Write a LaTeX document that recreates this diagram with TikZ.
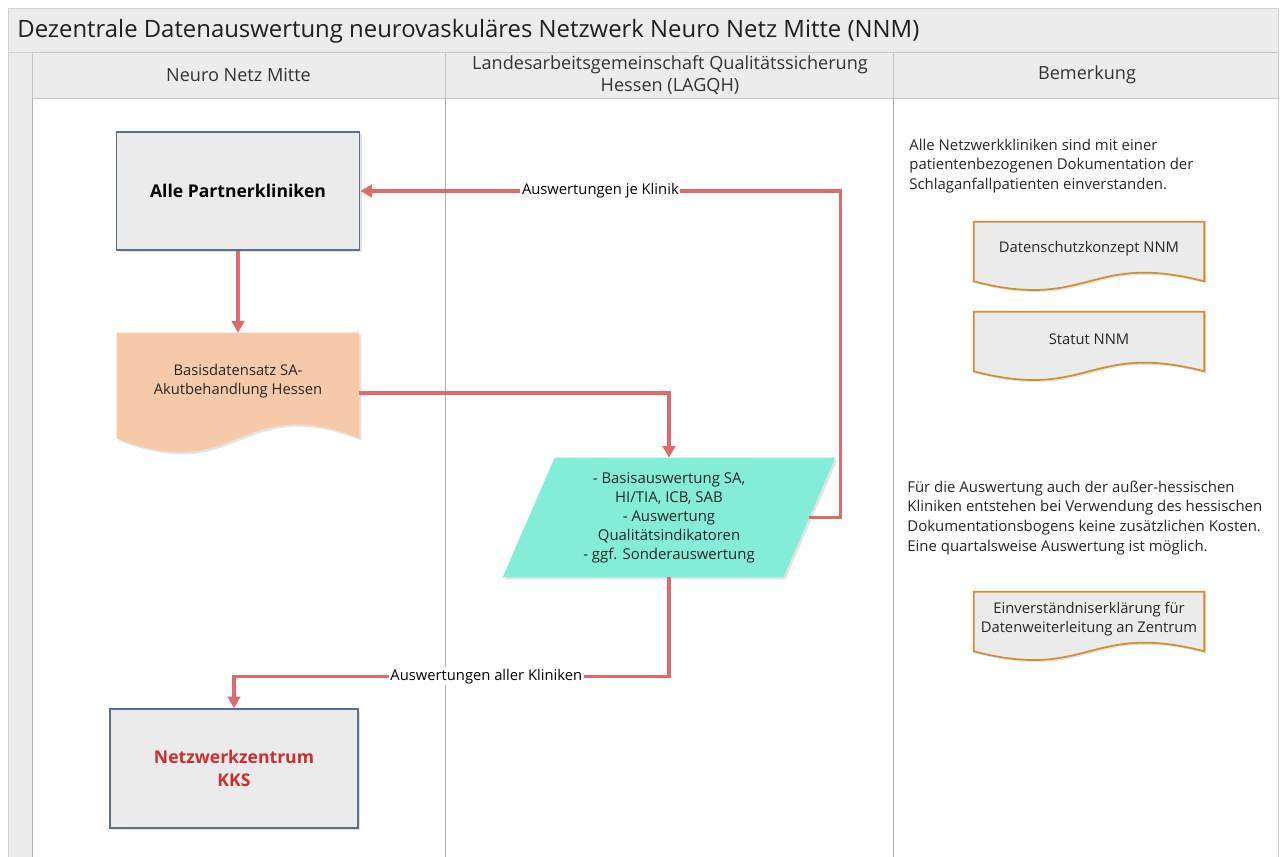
\documentclass[tikz,border=0pt]{standalone}
\usepackage{fontspec}
\setmainfont{Open Sans}
\usetikzlibrary{arrows.meta,calc,backgrounds,shadows}

\definecolor{lanegray}{HTML}{ECECEC}
\definecolor{laneline}{HTML}{A9B5B4}
\definecolor{boxline}{HTML}{5B6E8C}
\definecolor{boxfill}{HTML}{EBEBEB}
\definecolor{peach}{HTML}{F6C9A9}
\definecolor{aqua}{HTML}{84EDD8}
\definecolor{docline}{HTML}{D38E33}
\definecolor{flowred}{HTML}{E06A6A}
\definecolor{kksred}{HTML}{CF2E2E}

\newcommand{\pxu}{0.02cm}
\newcommand{\docpath}[4]{%
  \draw[#1] (#2.north west) -- (#2.north east) -- ($(#2.south east)+(0,#3)$)
    .. controls ($(#2.south)+(0,#3-#4)$) and ($(#2.south)+(0,#3+#4)$) .. ($(#2.south west)+(0,#3)$) -- cycle;}

\tikzset{
  softshadow/.style={drop shadow={shadow xshift=1.2pt, shadow yshift=-1.2pt, opacity=0.22}},
  head/.style={align=center, text=black!80, font=\fontsize{10.3}{12.5}\selectfont},
  proc/.style={draw=boxline, fill=boxfill, line width=1pt, softshadow, align=center,
    font=\bfseries\fontsize{10}{12.8}\selectfont},
  doctext/.style={align=center, text=black!85, font=\fontsize{8.4}{10.6}\selectfont},
  note/.style={anchor=west, align=left, inner sep=0pt, text=black!85, font=\fontsize{8.5}{11.3}\selectfont},
  flow/.style={draw=flowred, line width=2pt, -{Triangle[length=6.5pt,width=7pt]}},
  flowlabel/.style={fill=white, inner sep=1pt, text=black, font=\fontsize{8.4}{9}\selectfont}
}

\begin{document}
\begin{tikzpicture}[x=0.02cm, y=-0.02cm]
\useasboundingbox (0,0) rectangle (1283,857);

\begin{scope}[on background layer]
  \draw[draw=black!18, fill=white] (8,8) rectangle (1278,857);
  \draw[draw=black!18, fill=lanegray] (8,8) rectangle (1278,52);
  \draw[draw=black!18, fill=lanegray] (8,52) rectangle (32,857);
  \foreach \xa/\xb in {32/445, 445/893, 893/1278}{
    \draw[draw=black!22, fill=lanegray] (\xa,52) rectangle (\xb,98);
    \draw[laneline] (\xa,98) -- (\xa,857);
  }
\end{scope}

\node[anchor=west, inner sep=0pt, text=black!88, font=\fontsize{13.6}{16}\selectfont] (title) at (17,31)
  {Dezentrale Datenauswertung neurovaskuläres Netzwerk Neuro Netz Mitte (NNM)};
\node[head] (lane1) at (238.5,75) {Neuro Netz Mitte};
\node[head] (lane2) at (670,75) {Landesarbeitsgemeinschaft Qualitätssicherung\\Hessen (LAGQH)};
\node[head] (lane3) at (1087,75) {Bemerkung};

\node[proc, minimum width=243*\pxu, minimum height=118*\pxu] (partner) at (238,191) {Alle Partnerkliniken};
\node[doctext, minimum width=242*\pxu, minimum height=96*\pxu] (basis) at (238,381)
  {Basisdatensatz SA-\\Akutbehandlung Hessen};
\node[doctext, font=\fontsize{8.5}{10.8}\selectfont, minimum width=280*\pxu, minimum height=119*\pxu] (ausw) at (669,517.5)
  {- Basisauswertung SA,\\HI/TIA, ICB, SAB\\- Auswertung\\Qualitätsindikatoren\\- ggf. Sonderauswertung};
\node[proc, text=kksred, minimum width=248*\pxu, minimum height=119*\pxu] (kks) at (234,768.5) {Netzwerkzentrum\\KKS};

\node[note] (note1) at (909,166)
  {Alle Netzwerkkliniken sind mit einer\\patientenbezogenen Dokumentation der\\Schlaganfallpatienten einverstanden.};
\node[note] (note2) at (907,518)
  {Für die Auswertung auch der außer-hessischen\\Kliniken entstehen bei Verwendung des hessischen\\Dokumentationsbogens keine zusätzlichen Kosten.\\Eine quartalsweise Auswertung ist möglich.};

\node[doctext, minimum width=230*\pxu, minimum height=54*\pxu] (dsk) at (1089,249) {Datenschutzkonzept NNM};
\node[doctext, minimum width=230*\pxu, minimum height=54*\pxu] (statut) at (1089,339) {Statut NNM};
\node[doctext, minimum width=230*\pxu, minimum height=54*\pxu] (einv) at (1089,619)
  {Einverständniserklärung für\\Datenweiterleitung an Zentrum};

\begin{scope}[on background layer]
  \docpath{fill=peach, draw=none, softshadow}{basis}{9}{48}
  \docpath{fill=boxfill, draw=docline, line width=1pt, softshadow}{dsk}{5}{30}
  \docpath{fill=boxfill, draw=docline, line width=1pt, softshadow}{statut}{5}{30}
  \docpath{fill=boxfill, draw=docline, line width=1pt, softshadow}{einv}{5}{30}
  \fill[aqua, softshadow] ($(ausw.north west)+(26,0)$) -- ($(ausw.north east)+(26,0)$)
    -- ($(ausw.south east)+(-26,0)$) -- ($(ausw.south west)+(-26,0)$) -- cycle;
\end{scope}

\draw[flow] (partner) -- (basis);
\draw[flow] ($(basis.east)+(0,12)$) -| (ausw.north);
\draw[flow] (ausw.east) -- ++(31,0) |- node[flowlabel, pos=0.75] {Auswertungen je Klinik} (partner.east);
\draw[flow] (ausw.south) -- ++(0,99) -| node[flowlabel, pos=0.21] {Auswertungen aller Kliniken} (kks.north);
\end{tikzpicture}
\end{document}
